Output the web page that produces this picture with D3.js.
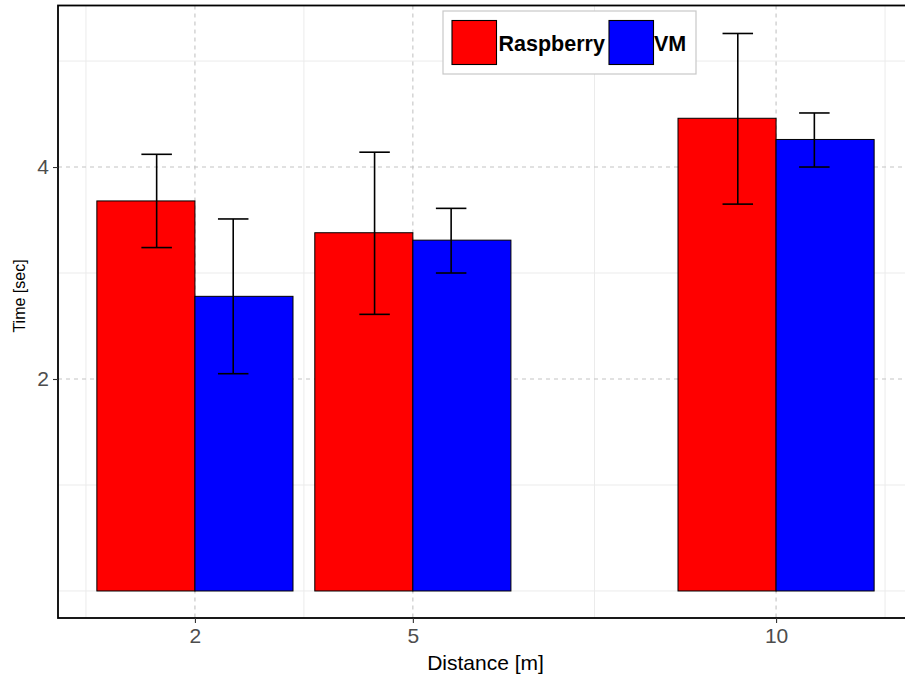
<!DOCTYPE html>
<html>
<head>
<meta charset="utf-8">
<script src="https://cdn.jsdelivr.net/npm/d3@7"></script>
<style>
  html, body { margin: 0; padding: 0; background: #fff; }
  svg { display: block; font-family: "Liberation Sans", Arial, Helvetica, sans-serif; }
</style>
</head>
<body>
<svg id="chart" width="905" height="675"></svg>
<script>
// ---- data ----
const distances = [2, 5, 10];
const seriesNames = ["Raspberry", "VM"];
const seriesColors = ["#ff0000", "#0000ff"];
const raspberryMean = [3.68, 3.38, 4.46];
const raspberryLow  = [3.24, 2.61, 3.65];
const raspberryHigh = [4.12, 4.14, 5.26];
const vmMean = [2.78, 3.31, 4.26];
const vmLow  = [2.05, 3.00, 4.00];
const vmHigh = [3.51, 3.61, 4.51];
const xTicks = [2, 5, 10];
const xMinor = [0.5, 3.5, 7.5, 11.5];
const yTicks = [2, 4];
const yMinor = [0, 1, 3, 5];

(function () {
const rows = [];
distances.forEach((d, i) => {
  rows.push({dist: d, s: 0, mean: raspberryMean[i], lo: raspberryLow[i], hi: raspberryHigh[i]});
  rows.push({dist: d, s: 1, mean: vmMean[i], lo: vmLow[i], hi: vmHigh[i]});
});

const svg = d3.select("#chart");
const pL = 58, pR = 913, pT = 5.5, pB = 618;
const x = d3.scaleLinear().domain([0.115, 11.885]).range([pL, pR]);
const y = d3.scaleLinear().domain([-0.255, 5.524]).range([pB, pT]);
const barW = 1.35;      // width of each dodged bar in data units
const ebOff = 0.527;    // error bar dodge offset
const capHalf = 0.21;   // half width of error bar caps

const g = svg.append("g");

// minor grid
g.selectAll(".vminor").data(xMinor).join("line")
  .attr("x1", d => x(d)).attr("x2", d => x(d)).attr("y1", pT).attr("y2", pB)
  .attr("stroke", "#ebebeb").attr("stroke-width", 1);
g.selectAll(".hminor").data(yMinor).join("line")
  .attr("x1", pL).attr("x2", pR).attr("y1", d => y(d)).attr("y2", d => y(d))
  .attr("stroke", "#ebebeb").attr("stroke-width", 1);
// major grid dashed
g.selectAll(".vmajor").data(xTicks).join("line")
  .attr("x1", d => x(d)).attr("x2", d => x(d)).attr("y1", pT).attr("y2", pB)
  .attr("stroke", "#c4c4c4").attr("stroke-width", 1.1).attr("stroke-dasharray", "4,4");
g.selectAll(".hmajor").data(yTicks).join("line")
  .attr("x1", pL).attr("x2", pR).attr("y1", d => y(d)).attr("y2", d => y(d))
  .attr("stroke", "#c4c4c4").attr("stroke-width", 1.1).attr("stroke-dasharray", "4,4");

// bars
g.selectAll(".bar").data(rows).join("rect")
  .attr("x", d => x(d.s === 0 ? d.dist - barW : d.dist))
  .attr("width", d => x(barW) - x(0))
  .attr("y", d => y(d.mean))
  .attr("height", d => y(0) - y(d.mean))
  .attr("fill", d => seriesColors[d.s])
  .attr("stroke", "#000").attr("stroke-width", 1);

// error bars
const eb = g.selectAll(".eb").data(rows).join("g")
  .attr("stroke", "#000").attr("stroke-width", 1.6);
const cx = d => d.dist + (d.s === 0 ? -ebOff : ebOff);
eb.append("line").attr("x1", d => x(cx(d))).attr("x2", d => x(cx(d)))
  .attr("y1", d => y(d.lo)).attr("y2", d => y(d.hi));
eb.append("line").attr("x1", d => x(cx(d) - capHalf)).attr("x2", d => x(cx(d) + capHalf))
  .attr("y1", d => y(d.hi)).attr("y2", d => y(d.hi));
eb.append("line").attr("x1", d => x(cx(d) - capHalf)).attr("x2", d => x(cx(d) + capHalf))
  .attr("y1", d => y(d.lo)).attr("y2", d => y(d.lo));

// panel border
g.append("rect").attr("x", pL).attr("y", pT).attr("width", pR - pL).attr("height", pB - pT)
  .attr("fill", "none").attr("stroke", "#000").attr("stroke-width", 1.8);

// axes
const yAxis = g.append("g").attr("transform", `translate(${pL},0)`)
  .call(d3.axisLeft(y).tickValues(yTicks).tickSize(5).tickPadding(4).tickFormat(d3.format("d")));
const xAxis = g.append("g").attr("transform", `translate(0,${pB})`)
  .call(d3.axisBottom(x).tickValues(xTicks).tickSize(5).tickPadding(5).tickFormat(d3.format("d")));
[xAxis, yAxis].forEach(a => {
  a.select(".domain").remove();
  a.selectAll(".tick line").attr("stroke", "#333").attr("stroke-width", 1.1);
  a.selectAll(".tick text").attr("fill", "#4d4d4d").style("font-size", "21px")
    .style("font-family", "'Liberation Sans', Arial, sans-serif");
});

// axis titles
svg.append("text").attr("x", (pL + pR) / 2).attr("y", 670)
  .attr("text-anchor", "middle").style("font-size", "21px").attr("fill", "#000")
  .text("Distance [m]");
svg.append("text").attr("transform", `translate(25,296) rotate(-90)`)
  .attr("text-anchor", "middle").style("font-size", "16px").attr("fill", "#000")
  .text("Time [sec]");

// legend
const lg = svg.append("g");
lg.append("rect").attr("x", 443).attr("y", 11).attr("width", 253).attr("height", 63)
  .attr("fill", "#fff").attr("stroke", "#c8c8c8").attr("stroke-width", 1.2);
const keyX = [452, 609];
const labX = [498.5, 654];
seriesNames.forEach((name, i) => {
  lg.append("rect").attr("x", keyX[i]).attr("y", 20.5).attr("width", 44.5).attr("height", 44)
    .attr("fill", seriesColors[i]).attr("stroke", "#000").attr("stroke-width", 1.1);
  lg.append("text").attr("x", labX[i]).attr("y", 50.5)
    .style("font-size", "21.5px").style("font-weight", "bold").attr("fill", "#000")
    .text(name);
});
})();
</script>
</body>
</html>
